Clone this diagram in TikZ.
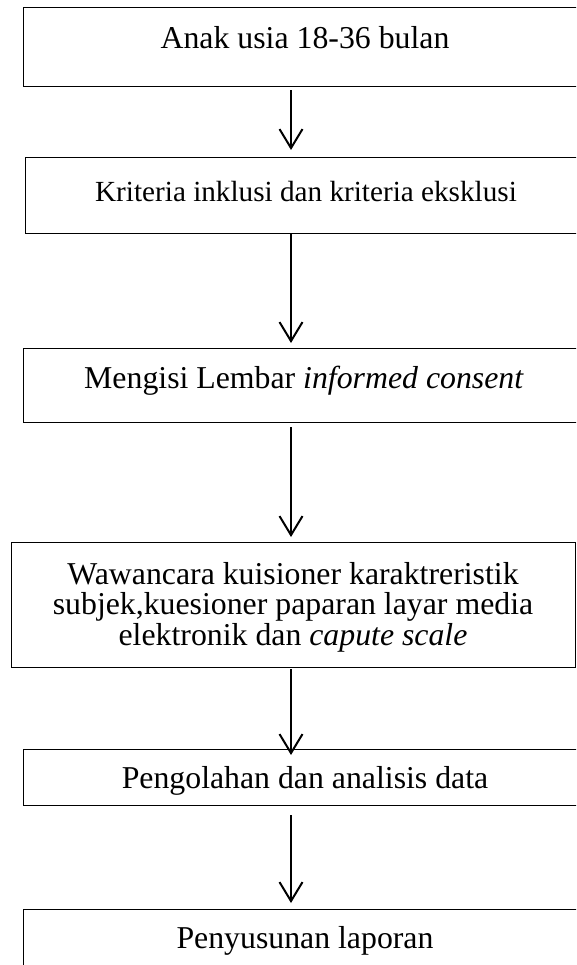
\documentclass[tikz,border=0pt]{standalone}
\usepackage{fontspec}
\setmainfont{Liberation Serif}
\usetikzlibrary{arrows.meta}
\tikzset{
  box/.style={draw=black, line width=1.3pt, rectangle, inner sep=0pt, anchor=north west},
  txt/.style={inner sep=0pt, align=center, anchor=base, font=\fontsize{31.8}{30.5}\selectfont},
  txtsmall/.style={inner sep=0pt, align=center, anchor=base, font=\fontsize{29.2}{32}\selectfont},
  arr/.style={line width=2pt, -{Straight Barb[length=19pt,width=23pt,line width=2pt]}}
}
\begin{document}
\begin{tikzpicture}[x=1pt,y=-1pt]
\useasboundingbox (0,0) rectangle (576,965);
\clip (0,0) rectangle (576,965);
\fill[white] (0,0) rectangle (576,965);
\coordinate (ax) at (291,0);
% boxes
\node[box, minimum width=564pt, minimum height=79pt] (b1) at (22.7,7) {};
\node[box, minimum width=562pt, minimum height=76pt] (b2) at (24.7,157) {};
\node[box, minimum width=564pt, minimum height=74pt] (b3) at (22.7,348) {};
\node[box, minimum width=564pt, minimum height=125pt] (b4) at (11,542) {};
\node[box, minimum width=564pt, minimum height=56pt] (b5) at (22.7,749) {};
\node[box, minimum width=564pt, minimum height=90pt] (b6) at (22.7,909) {};
% texts
\node[txt] (t1) at (305,49) {Anak usia 18-36 bulan};
\node[txtsmall] (t2) at (306,202) {Kriteria inklusi dan kriteria eksklusi};
\node[txt] (t3) at (304,388) {Mengisi Lembar \textit{informed consent}};
\node[txt, anchor=center] (t4) at (293,607) {Wawancara kuisioner karaktreristik\\subjek,kuesioner paparan layar media\\elektronik dan \textit{capute scale}};
\node[txt] (t5) at (305,788) {Pengolahan dan analisis data};
\node[txt] (t6) at (305,948) {Penyusunan laporan};
% arrows
\draw[arr, shorten <=3pt, shorten >=7pt] (b1.south -| ax) -- (b2.north -| ax);
\draw[arr, shorten <=0pt, shorten >=5pt] (b2.south -| ax) -- (b3.north -| ax);
\draw[arr, shorten <=4pt, shorten >=5pt] (b3.south -| ax) -- (b4.north -| ax);
\draw[arr, shorten <=1pt, shorten >=-6pt] (b4.south -| ax) -- (b5.north -| ax);
\draw[arr, shorten <=9pt, shorten >=6pt] (b5.south -| ax) -- (b6.north -| ax);
\end{tikzpicture}
\end{document}
